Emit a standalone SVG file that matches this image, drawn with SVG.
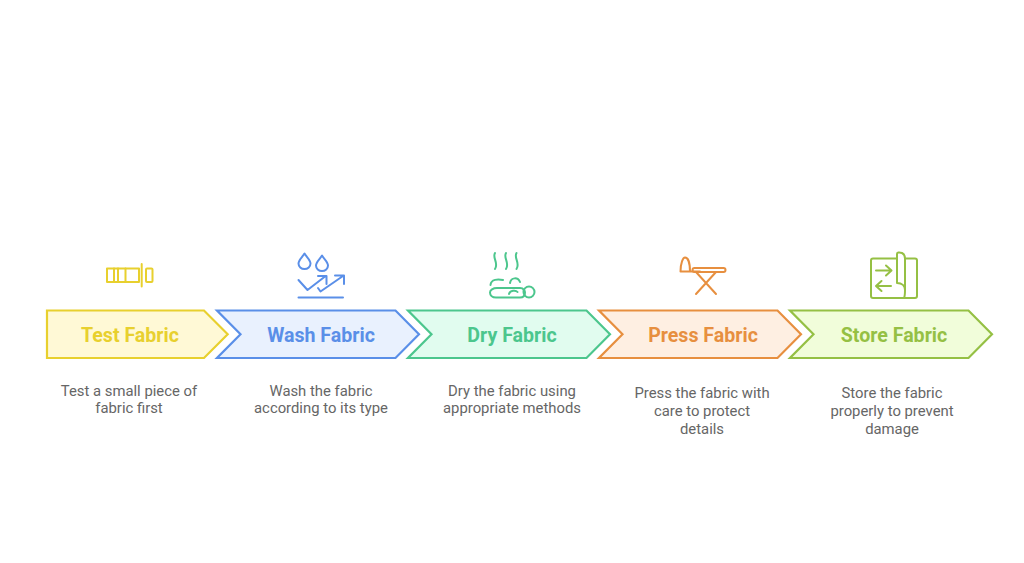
<svg xmlns="http://www.w3.org/2000/svg" width="1024" height="563" viewBox="0 0 1024 563">
<style>
.t{font-family:Roboto,"Liberation Sans",sans-serif;font-size:19.6px;font-weight:700;text-anchor:middle}
.d{font-family:Roboto,"Liberation Sans",sans-serif;font-size:14.85px;fill:#666666;text-anchor:middle}
.s{stroke-width:2.2;stroke-linejoin:miter}
.i{fill:none;stroke-width:2;stroke-linecap:round;stroke-linejoin:round}
.y{stroke:#e8d02e}.b{stroke:#5a8fe8}.g{stroke:#4cc68d}.o{stroke:#e78f3f}.l{stroke:#95c044}
</style>
<rect width="1024" height="563" fill="#ffffff"/>
<g id="node-test">
<path class="s y" fill="#fff9d6" d="M47 310.500H204L227.700 334.300L204 358H47Z"/>
<text class="t" x="130" y="341.500" fill="#e8d02e">Test Fabric</text>
<text class="d"><tspan x="129" y="395.500">Test a small piece of</tspan><tspan x="129" y="413">fabric first</tspan></text>
<g class="i y"><rect x="107" y="268.500" width="32" height="13.500"/><path d="M114 268.500V282M118 268.500V282M125.500 268.500V282M141.700 264V286.500"/><rect x="146" y="268.500" width="6.500" height="13.500" rx="1"/></g>
</g>
<g id="node-wash">
<path class="s b" fill="#e9f1fe" d="M217 310.500H395.500L419 334.300L395.500 358H217L240.500 334.300Z"/>
<text class="t" x="321" y="341.500" fill="#5a8fe8">Wash Fabric</text>
<text class="d"><tspan x="321" y="395.500">Wash the fabric</tspan><tspan x="321" y="413">according to its type</tspan></text>
<g class="i b"><path d="M304.500 253.500C302.500 257 298.500 260 298.500 263.500A6 5.500 0 0 0 310.500 263.500C310.500 260 306.500 257 304.500 253.500Z"/><path d="M322 255.500C320 259 316 262 316 265.500A6 5.500 0 0 0 328 265.500C328 262 324 259 322 255.500Z"/><path d="M298.500 280L307.500 290L325 276.500M318 276H326.500V284M320.500 291.500L343 276M335 275.500H344V284M320.500 291.500L318 288M298.500 297.500H343"/></g>
</g>
<g id="node-dry">
<path class="s g" fill="#e1fcef" d="M408 310.500H586.500L610 334.300L586.500 358H408L431.500 334.300Z"/>
<text class="t" x="512" y="341.500" fill="#4cc68d">Dry Fabric</text>
<text class="d"><tspan x="512" y="395.500">Dry the fabric using</tspan><tspan x="512" y="413">appropriate methods</tspan></text>
<g class="i g"><path d="M495 253C492 258 499 263 495 269M506 253C503 258 510 263 506 269M516.500 253C513.500 258 520.500 263 516.500 269"/><path d="M490.500 285C491 279 498 279 503 280M510 283C511 277 518 277 520 282"/><path d="M497 288H520C524 288 525 291.500 525 292.500C525 296 523 297.500 520 297.500H496C492 297.500 490 295 490 292.500C490 290 493 288 497 288ZM509 294C510 290 516 290 517.500 292"/><circle cx="529" cy="292" r="5.500"/></g>
</g>
<g id="node-press">
<path class="s o" fill="#feefe2" d="M599 310.500H777.500L801 334.300L777.500 358H599L622.500 334.300Z"/>
<text class="t" x="703" y="341.500" fill="#e78f3f">Press Fabric</text>
<text class="d"><tspan x="702" y="398">Press the fabric with</tspan><tspan x="702" y="416">care to protect</tspan><tspan x="702" y="433.500">details</tspan></text>
<g class="i o"><path d="M680.500 271.500C680.500 263 683 257.500 685 257.500C688 257.500 690 263 690 271.500ZM680.500 271.500H700"/><rect x="692.500" y="268" width="33" height="4" rx="2"/><path d="M696 272L716 294M716 272L696 294"/></g>
</g>
<g id="node-store">
<path class="s l" fill="#f1fdda" d="M790 310.500H968.500L992 334.300L968.500 358H790L813.500 334.300Z"/>
<text class="t" x="894" y="341.500" fill="#95c044">Store Fabric</text>
<text class="d"><tspan x="892" y="398">Store the fabric</tspan><tspan x="892" y="416">properly to prevent</tspan><tspan x="892" y="433.500">damage</tspan></text>
<g class="i l"><path d="M897 258.500H873C871.500 258.500 871 259 871 260.500V296C871 297.500 871.500 298 873 298H904M905 258.500H915C916.500 258.500 917 259 917 260.500V296C917 297.500 916.500 298 915 298H904"/><path d="M897 283V254C897 252.500 899 252 902 253C904 254 905 256 905 258.500V290C905 294 905 296 904 298M897 283C902 283 905 286 905 290"/><path d="M876 270.500H891M886 265.500L891.500 270.500L886 275.500M876 286H891M881.500 281L876 286L881.500 291"/></g>
</g>
<g id="connectors"></g>
</svg>
